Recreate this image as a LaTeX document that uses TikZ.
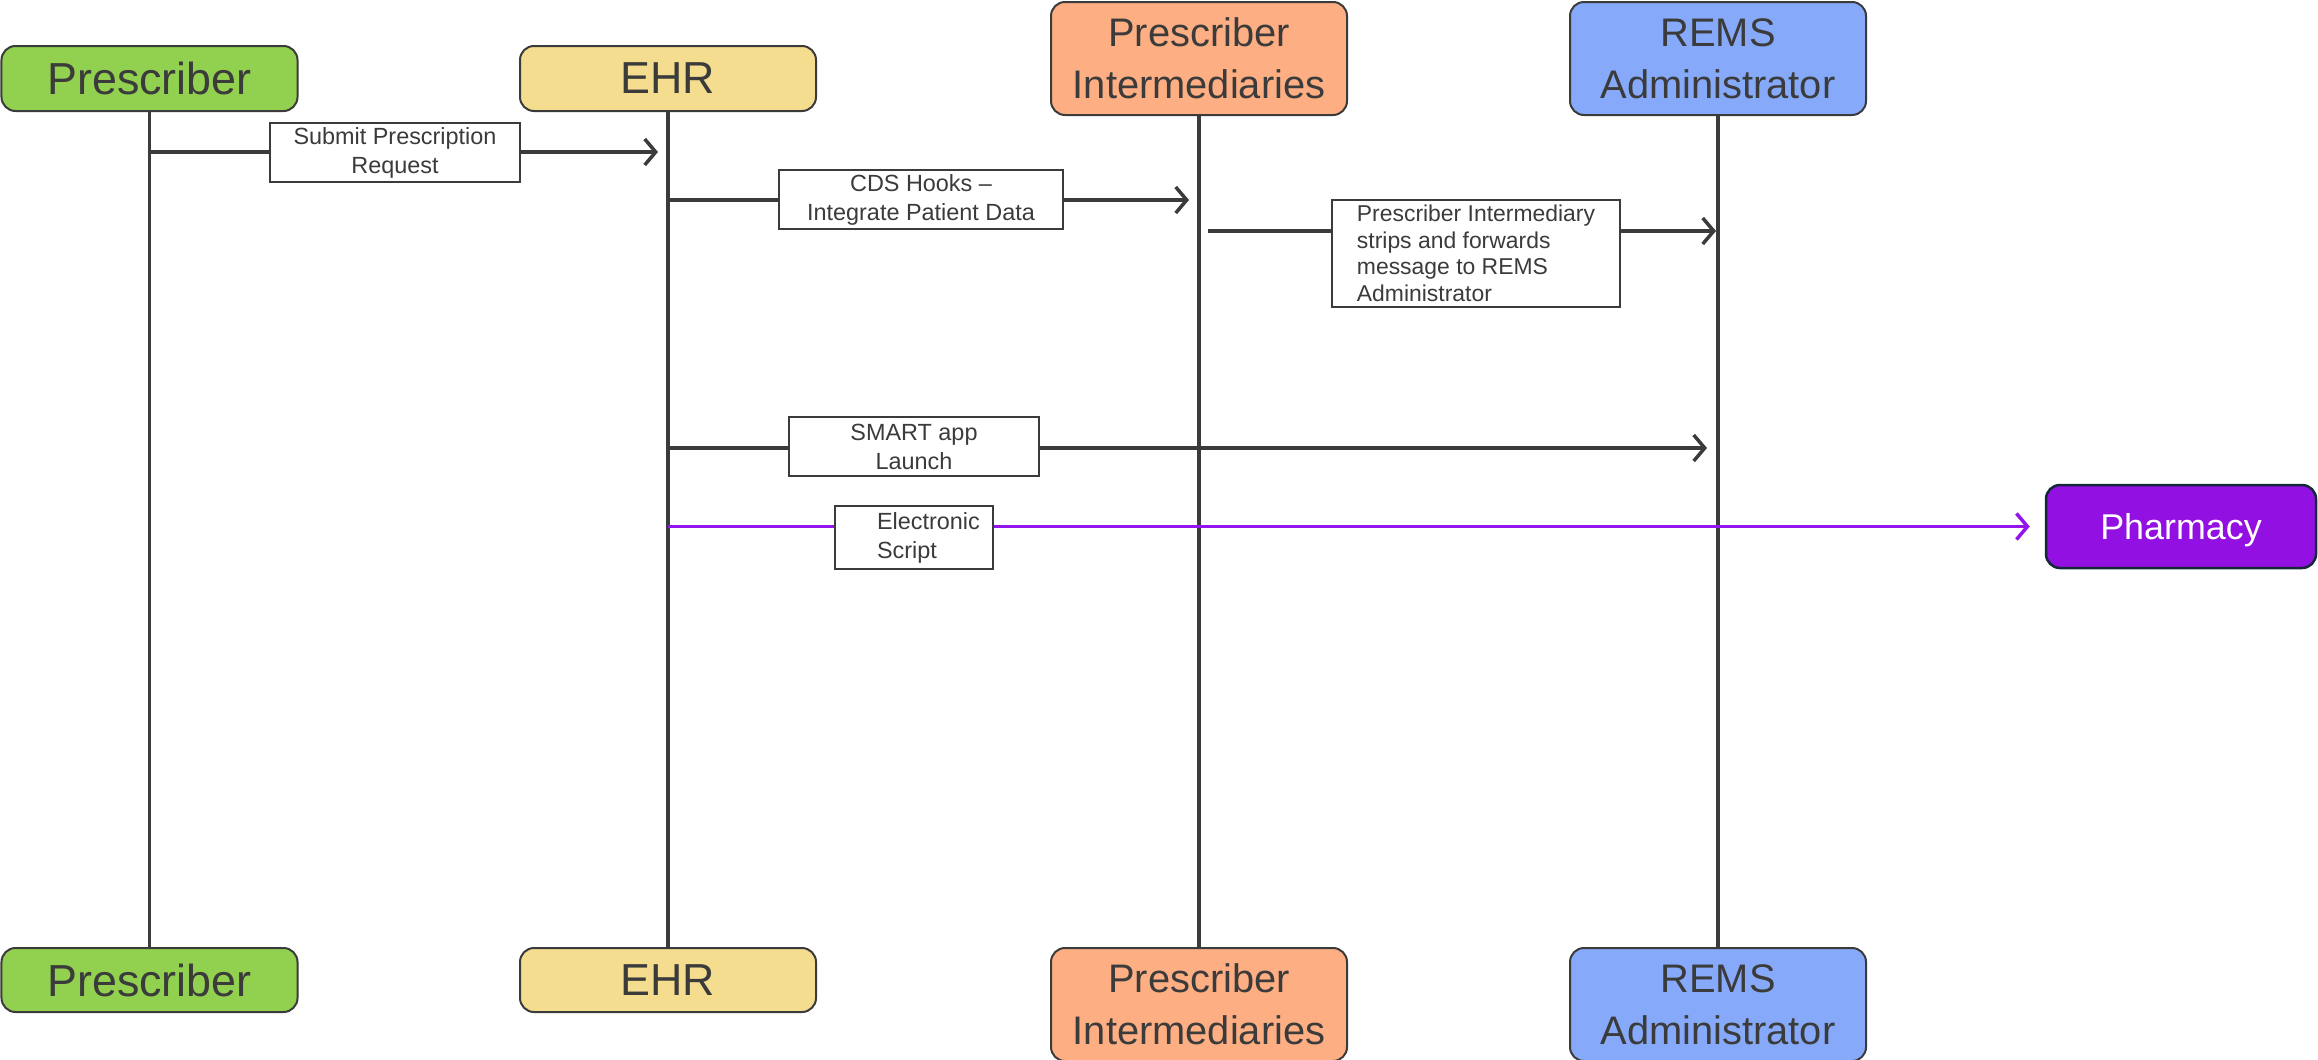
\documentclass[tikz,border=0pt]{standalone}
\usepackage{fontspec}
\setmainfont{Liberation Sans}
\usetikzlibrary{arrows.meta}

\definecolor{ink}{HTML}{3B3B3B}
\definecolor{presgreen}{HTML}{92D050}
\definecolor{ehryellow}{HTML}{F4DD8E}
\definecolor{piorange}{HTML}{FDAE82}
\definecolor{remsblue}{HTML}{86AAF9}
\definecolor{pharmpurple}{HTML}{9210E2}
\definecolor{scriptpurple}{HTML}{9415EC}
\definecolor{pharmedge}{HTML}{14283A}

\begin{document}
\begin{tikzpicture}[x=1bp,y=-1bp,
  actor/.style={draw=ink, line width=2bp, rounded corners=14bp,
    minimum width=296bp, text=ink, align=center, inner sep=0pt},
  bigtext/.style={font=\fontsize{45}{52}\selectfont},
  pairtext/.style={font=\fontsize{40}{52}\selectfont},
  life/.style={draw=ink, line width=3.2bp},
  msg/.style={draw=ink, line width=3.5bp,
    -{Straight Barb[length=11bp,width=26bp,line width=3.5bp]}},
  lbl/.style={draw=ink, line width=2.2bp, fill=white, text=ink,
    font=\fontsize{23.5}{29}\selectfont, align=center, inner sep=0pt}
]
\useasboundingbox (0,0) rectangle (2318,1059);

% participants, top row
\node[actor, fill=presgreen, minimum height=65bp, bigtext] (presT) at (149.5,78.5) {Prescriber};
\node[actor, fill=ehryellow, minimum height=65bp, bigtext] (ehrT) at (668,78.5) {EHR};
\node[actor, fill=piorange, minimum height=113bp, pairtext] (piT) at (1199,58.5) {Prescriber\\Intermediaries};
\node[actor, fill=remsblue, minimum height=113bp, pairtext] (remsT) at (1718,58.5) {REMS\\Administrator};

% participants, bottom row
\node[actor, fill=presgreen, minimum height=64bp, bigtext] (presB) at (149.5,980) {Prescriber};
\node[actor, fill=ehryellow, minimum height=64bp, bigtext] (ehrB) at (668,980) {EHR};
\node[actor, fill=piorange, minimum height=113bp, pairtext] (piB) at (1199,1004.5) {Prescriber\\Intermediaries};
\node[actor, fill=remsblue, minimum height=113bp, pairtext] (remsB) at (1718,1004.5) {REMS\\Administrator};

% lifelines
\draw[life] (presT.south) -- (presB.north);
\draw[life] (ehrT.south) -- (ehrB.north);
\draw[life] (piT.south) -- (piB.north);
\draw[life] (remsT.south) -- (remsB.north);

% pharmacy
\node[draw=pharmedge, line width=2.5bp, fill=pharmpurple, rounded corners=14bp,
  minimum width=270bp, minimum height=83bp, text=white, inner sep=0pt, text depth=0pt,
  font=\fontsize{36}{40}\selectfont] (pharm) at (2181,526.5) {Pharmacy};

% message end points on the lifelines
\coordinate (m1a) at (149.5,152);
\coordinate (m1b) at (658,152);
\coordinate (m2a) at (668,200);
\coordinate (m2b) at (1189,200);
\coordinate (m3a) at (1208,231);
\coordinate (m3b) at (1716,231);
\coordinate (m4a) at (668,448);
\coordinate (m4b) at (1707,448);
\coordinate (m5a) at (668,526.5);

% messages
\draw[msg] (m1a) -- (m1b);
\node[lbl, minimum width=250bp, minimum height=59bp] (l1) at (395,152.5) {Submit Prescription\\Request};

\draw[msg] (m2a) -- (m2b);
\node[lbl, minimum width=284bp, minimum height=59bp] (l2) at (921,199.5) {CDS Hooks –\\Integrate Patient Data};

\draw[msg] (m3a) -- (m3b);
\node[lbl, align=left, minimum width=288bp, minimum height=107bp,
  font=\fontsize{23}{26.7}\selectfont] (l3) at (1476,253.5)
  {Prescriber Intermediary\\strips and forwards\\message to REMS\\Administrator};

\draw[msg] (m4a) -- (m4b);
\node[lbl, minimum width=250bp, minimum height=59bp] (l4) at (914,446.5) {SMART app\\Launch};

\draw[msg, draw=scriptpurple, shorten >=15bp,
  -{Straight Barb[length=11bp,width=26bp,line width=3.5bp]}] (m5a) -- (pharm.west);
\node[lbl, align=left, minimum width=158bp, minimum height=63bp] (l5) at (914,537.5)
  {\hspace*{29bp}Electronic\\\hspace*{29bp}Script};
\end{tikzpicture}
\end{document}
